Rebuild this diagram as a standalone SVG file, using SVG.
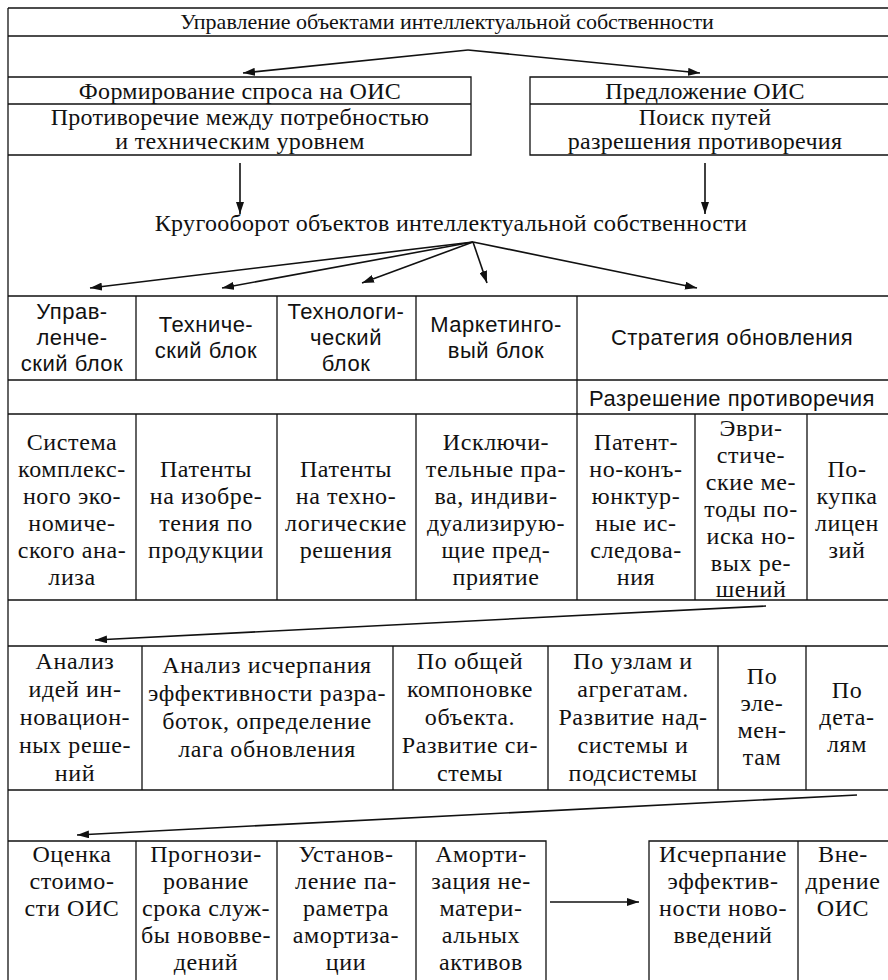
<svg xmlns="http://www.w3.org/2000/svg" width="888" height="980" viewBox="0 0 888 980">
<defs>
<marker id="ah" viewBox="0 0 12 8" refX="12" refY="4" markerWidth="12" markerHeight="8" markerUnits="userSpaceOnUse" orient="auto">
<path d="M0,0 L12,4 L0,8 Z" fill="#111"/>
</marker>
<style>
.ln{stroke:#111;stroke-width:1.3;fill:none}
.bx{stroke:#111;stroke-width:1.3;fill:none}
.cn{stroke:#111;stroke-width:1.6;fill:none;marker-end:url(#ah)}
.t{font-family:"Liberation Serif","Times New Roman",serif;font-size:24px;letter-spacing:0.3px;fill:#111;text-anchor:middle}
.tt{font-family:"Liberation Serif","Times New Roman",serif;font-size:22px;fill:#111;text-anchor:middle}
.b{font-family:"Liberation Serif","Times New Roman",serif;font-size:24px;letter-spacing:0.6px;fill:#111;text-anchor:middle}
.s{font-family:"Liberation Sans",Arial,sans-serif;font-size:22px;letter-spacing:0.5px;fill:#111;text-anchor:middle}
</style>
</defs>
<rect width="888" height="980" fill="#fff"/>
<g id="frame">
<line class="ln" x1="8" y1="8" x2="8" y2="980"/>
</g>
<g id="title">
<line class="ln" x1="8" y1="8" x2="888" y2="8"/>
<line class="ln" x1="8" y1="36" x2="888" y2="36"/>
<text class="tt" x="447" y="29">Управление объектами интеллектуальной собственности</text>
</g>
<g id="demand">
<path class="bx" d="M8,77 H471 V155 H8 M8,104 H471"/>
<text class="t" x="240" y="99">Формирование спроса на ОИС</text>
<text class="t" x="240" y="125">Противоречие между потребностью</text>
<text class="t" x="240" y="149">и техническим уровнем</text>
</g>
<g id="supply">
<path class="bx" d="M888,77 H530 V155 H888 M530,104 H888"/>
<text class="t" x="705" y="99">Предложение ОИС</text>
<text class="t" x="705" y="125">Поиск путей</text>
<text class="t" x="705" y="149">разрешения противоречия</text>
</g>
<g id="circulation">
<text class="t" x="451" y="231">Кругооборот объектов интеллектуальной собственности</text>
</g>
<g id="row3">
<path class="bx" d="M8,296 H888 M8,380 H888 M136,296 V380 M277,296 V380 M416,296 V380 M577,296 V414"/>
<text class="s" x="72" y="319">Управ-</text>
<text class="s" x="72" y="345">ленче-</text>
<text class="s" x="72" y="371">ский блок</text>
<text class="s" x="206" y="332">Техниче-</text>
<text class="s" x="206" y="358">ский блок</text>
<text class="s" x="346" y="319">Технологи-</text>
<text class="s" x="346" y="345">ческий</text>
<text class="s" x="346" y="371">блок</text>
<text class="s" x="496" y="332">Маркетинго-</text>
<text class="s" x="496" y="358">вый блок</text>
<text class="s" x="732" y="345">Стратегия обновления</text>
<text class="s" x="732" y="406">Разрешение противоречия</text>
</g>
<g id="row4">
<path class="bx" d="M8,414 H888 M8,600 H888 M136,414 V600 M277,414 V600 M416,414 V600 M577,414 V600 M695,414 V600 M807,414 V600"/>
<g id="n-system">
<text class="b" x="72" y="450">Система</text>
<text class="b" x="72" y="477">комплекс-</text>
<text class="b" x="72" y="504">ного эко-</text>
<text class="b" x="72" y="531">номиче-</text>
<text class="b" x="72" y="558">ского ана-</text>
<text class="b" x="72" y="585">лиза</text>
</g>
<g id="n-patents-prod">
<text class="b" x="206" y="477">Патенты</text>
<text class="b" x="206" y="504">на изобре-</text>
<text class="b" x="206" y="531">тения по</text>
<text class="b" x="206" y="558">продукции</text>
</g>
<g id="n-patents-tech">
<text class="b" x="346" y="477">Патенты</text>
<text class="b" x="346" y="504">на техно-</text>
<text class="b" x="346" y="531">логические</text>
<text class="b" x="346" y="558">решения</text>
</g>
<g id="n-exclusive">
<text class="b" x="496" y="450">Исключи-</text>
<text class="b" x="496" y="477">тельные пра-</text>
<text class="b" x="496" y="504">ва, индиви-</text>
<text class="b" x="496" y="531">дуализирую-</text>
<text class="b" x="496" y="558">щие пред-</text>
<text class="b" x="496" y="585">приятие</text>
</g>
<g id="n-patent-research">
<text class="b" x="636" y="450">Патент-</text>
<text class="b" x="636" y="477">но-конъ-</text>
<text class="b" x="636" y="504">юнктур-</text>
<text class="b" x="636" y="531">ные ис-</text>
<text class="b" x="636" y="558">следова-</text>
<text class="b" x="636" y="585">ния</text>
</g>
<g id="n-heuristic">
<text class="b" x="751" y="436">Эври-</text>
<text class="b" x="751" y="463">стиче-</text>
<text class="b" x="751" y="490">ские ме-</text>
<text class="b" x="751" y="517">тоды по-</text>
<text class="b" x="751" y="544">иска но-</text>
<text class="b" x="751" y="571">вых ре-</text>
<text class="b" x="751" y="597">шений</text>
</g>
<g id="n-license">
<text class="b" x="847" y="477">По-</text>
<text class="b" x="847" y="504">купка</text>
<text class="b" x="847" y="531">лицен</text>
<text class="b" x="847" y="558">зий</text>
</g>
</g>
<g id="row5">
<path class="bx" d="M8,646 H888 M8,790 H888 M142,646 V790 M393,646 V790 M548,646 V790 M718,646 V790 M806,646 V790"/>
<g id="n-ideas">
<text class="b" x="75" y="669">Анализ</text>
<text class="b" x="75" y="697">идей ин-</text>
<text class="b" x="75" y="725">новацион-</text>
<text class="b" x="75" y="753">ных реше-</text>
<text class="b" x="75" y="781">ний</text>
</g>
<g id="n-exhaust">
<text class="b" x="267" y="673">Анализ исчерпания</text>
<text class="b" x="267" y="701">эффективности разра-</text>
<text class="b" x="267" y="729">боток, определение</text>
<text class="b" x="267" y="757">лага обновления</text>
</g>
<g id="n-layout">
<text class="b" x="470" y="669">По общей</text>
<text class="b" x="470" y="697">компоновке</text>
<text class="b" x="470" y="725">объекта.</text>
<text class="b" x="470" y="753">Развитие си-</text>
<text class="b" x="470" y="781">стемы</text>
</g>
<g id="n-units">
<text class="b" x="633" y="669">По узлам и</text>
<text class="b" x="633" y="697">агрегатам.</text>
<text class="b" x="633" y="725">Развитие над-</text>
<text class="b" x="633" y="753">системы и</text>
<text class="b" x="633" y="781">подсистемы</text>
</g>
<g id="n-elements">
<text class="b" x="762" y="684">По</text>
<text class="b" x="762" y="711">эле-</text>
<text class="b" x="762" y="738">мен-</text>
<text class="b" x="762" y="765">там</text>
</g>
<g id="n-details">
<text class="b" x="847" y="698">По</text>
<text class="b" x="847" y="725">дета-</text>
<text class="b" x="847" y="752">лям</text>
</g>
</g>
<g id="row6">
<path class="bx" d="M8,841 H546 V980 M136,841 V980 M277,841 V980 M416,841 V980 M888,841 H649 V980 M798,841 V980"/>
<g id="n-valuation">
<text class="b" x="72" y="862">Оценка</text>
<text class="b" x="72" y="889">стоимо-</text>
<text class="b" x="72" y="916">сти ОИС</text>
</g>
<g id="n-forecast">
<text class="b" x="206" y="862">Прогнози-</text>
<text class="b" x="206" y="889">рование</text>
<text class="b" x="206" y="916">срока служ-</text>
<text class="b" x="206" y="943">бы нововве-</text>
<text class="b" x="206" y="970">дений</text>
</g>
<g id="n-param">
<text class="b" x="346" y="862">Установ-</text>
<text class="b" x="346" y="889">ление па-</text>
<text class="b" x="346" y="916">раметра</text>
<text class="b" x="346" y="943">амортиза-</text>
<text class="b" x="346" y="970">ции</text>
</g>
<g id="n-amort">
<text class="b" x="481" y="862">Аморти-</text>
<text class="b" x="481" y="889">зация не-</text>
<text class="b" x="481" y="916">матери-</text>
<text class="b" x="481" y="943">альных</text>
<text class="b" x="481" y="970">активов</text>
</g>
<g id="n-exhaustion">
<text class="b" x="723" y="862">Исчерпание</text>
<text class="b" x="723" y="889">эффектив-</text>
<text class="b" x="723" y="916">ности ново-</text>
<text class="b" x="723" y="943">введений</text>
</g>
<g id="n-intro">
<text class="b" x="843" y="862">Вне-</text>
<text class="b" x="843" y="889">дрение</text>
<text class="b" x="843" y="916">ОИС</text>
</g>
</g>
<g id="connectors">
<line class="cn" x1="468" y1="50" x2="243" y2="73"/>
<line class="cn" x1="468" y1="50" x2="700" y2="73"/>
<line class="cn" x1="240" y1="163" x2="240" y2="214"/>
<line class="cn" x1="705" y1="163" x2="705" y2="214"/>
<line class="cn" x1="473" y1="242" x2="90" y2="288"/>
<line class="cn" x1="473" y1="242" x2="222" y2="288"/>
<line class="cn" x1="473" y1="242" x2="362" y2="283"/>
<line class="cn" x1="473" y1="242" x2="487" y2="283"/>
<line class="cn" x1="473" y1="242" x2="697" y2="288"/>
<line class="cn" x1="766" y1="606" x2="95" y2="640"/>
<line class="cn" x1="857" y1="795" x2="77" y2="835"/>
<line class="cn" x1="550" y1="902" x2="639" y2="902"/>
</g>
</svg>
